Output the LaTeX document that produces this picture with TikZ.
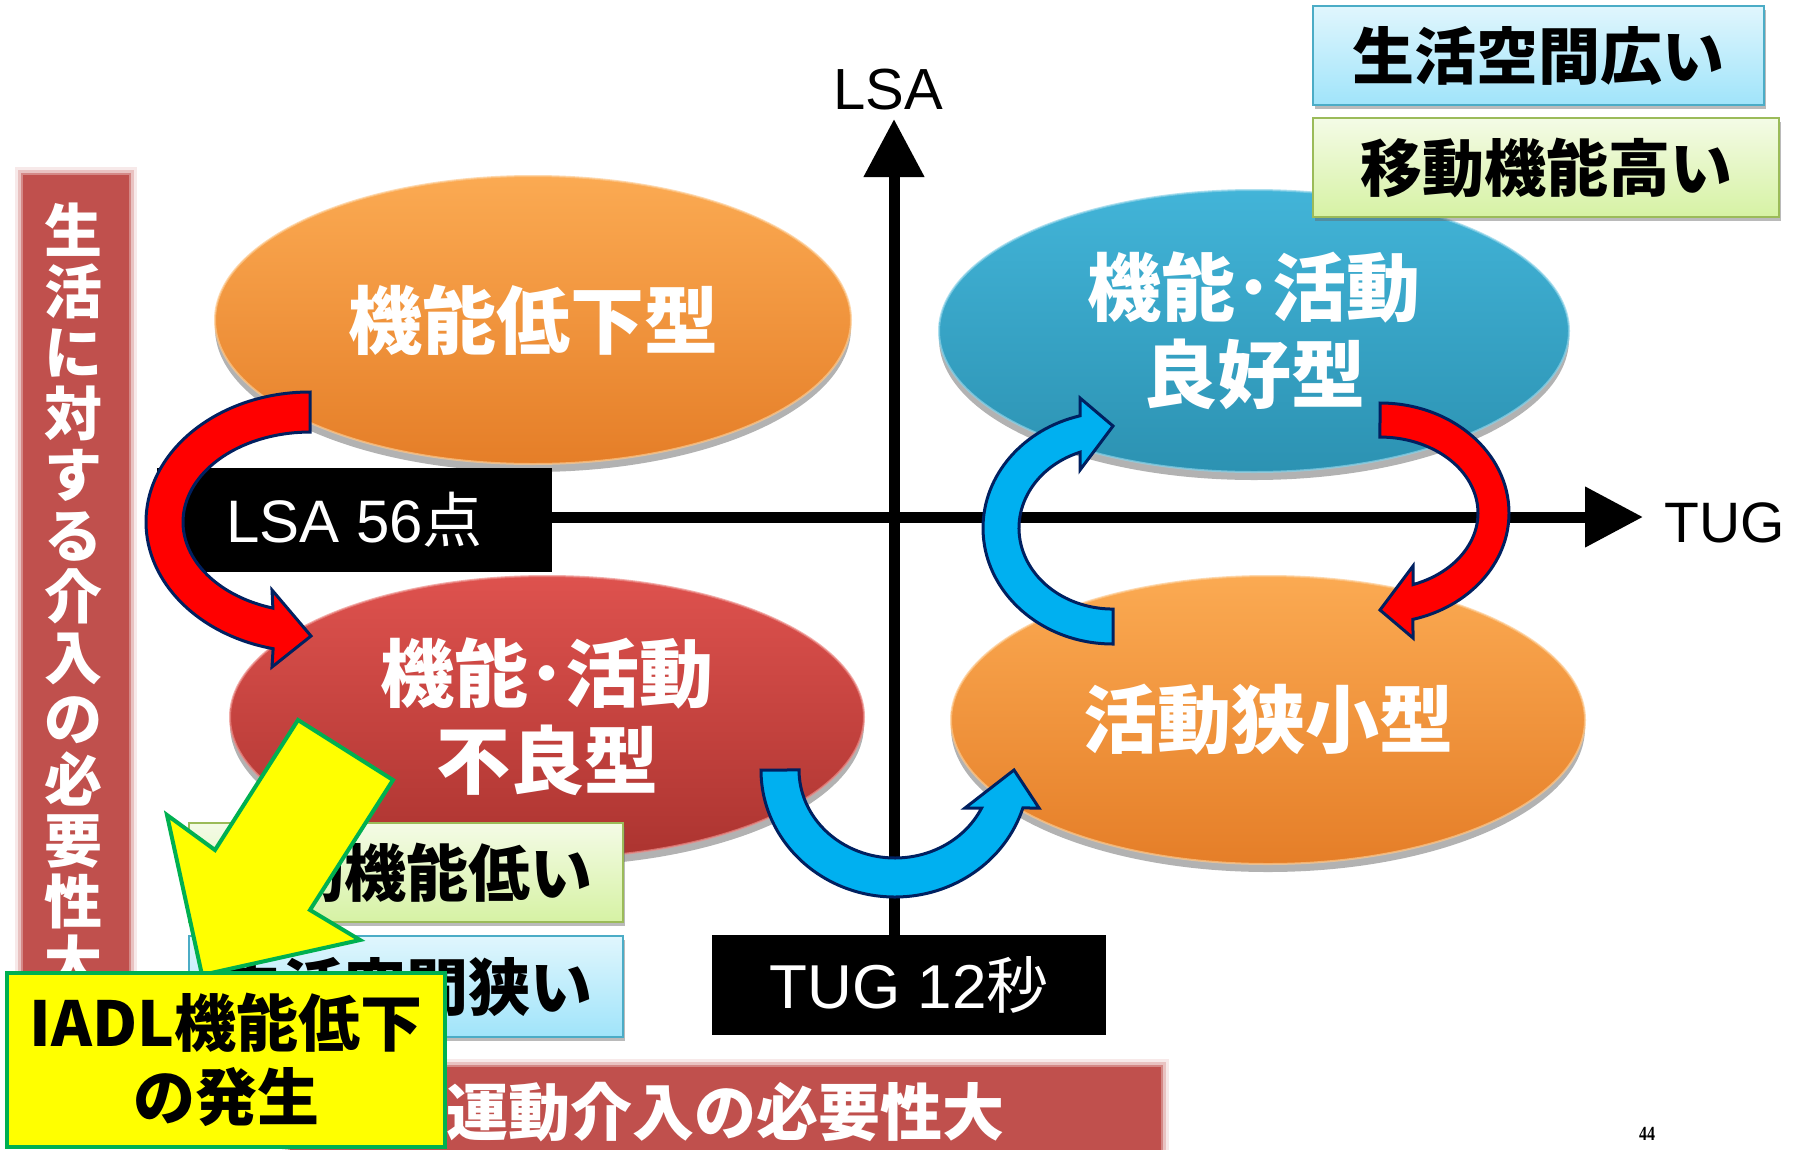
\documentclass[tikz,border=0pt]{standalone}
\usepackage{fontspec}
\usepackage{graphicx}
\setmainfont{Liberation Sans}
\newfontfamily\jp{Noto Sans CJK JP}
\newfontfamily\serifnum{Liberation Serif}
\usetikzlibrary{shapes.geometric,arrows.meta,shadows}
\definecolor{barred}{RGB}{192,80,77}
\definecolor{orT}{RGB}{251,170,82}
\definecolor{orB}{RGB}{229,126,40}
\definecolor{orR}{RGB}{253,200,140}
\definecolor{blT}{RGB}{66,180,216}
\definecolor{blB}{RGB}{44,146,178}
\definecolor{blR}{RGB}{140,210,232}
\definecolor{rdT}{RGB}{222,82,78}
\definecolor{rdB}{RGB}{172,52,48}
\definecolor{rdR}{RGB}{236,140,136}
\definecolor{navy}{RGB}{0,32,96}
\definecolor{arred}{RGB}{255,0,0}
\definecolor{arblue}{RGB}{0,176,240}
\definecolor{ggreen}{RGB}{155,187,89}
\definecolor{gT}{RGB}{244,251,230}
\definecolor{gB}{RGB}{214,242,164}
\definecolor{bblue}{RGB}{75,172,198}
\definecolor{bT}{RGB}{224,246,253}
\definecolor{bB}{RGB}{160,228,250}
\definecolor{ygreen}{RGB}{0,176,80}
\definecolor{yel}{RGB}{255,255,0}
\tikzset{
  ell/.style={ellipse, inner sep=0pt, align=center, text=white, line width=2pt, draw opacity=0.7,
    font=\jp\bfseries\fontsize{74}{87}\selectfont,
    drop shadow={shadow xshift=0pt, shadow yshift=-8pt, opacity=0.3, fill=black}},
  axisline/.style={line width=11pt, -{Triangle[length=58pt,width=58pt]}},
  blackbox/.style={rectangle, fill=black, text=white, inner sep=0pt},
  blockarrow/.style={draw=navy, line width=3pt, line join=miter},
  tbox/.style={rectangle, inner sep=0pt, line width=2pt, text=black,
    font=\jp\bfseries\fontsize{62}{62}\selectfont,
    drop shadow={shadow xshift=2pt, shadow yshift=-4pt, opacity=0.45, fill=black!60}},
  gbox/.style={tbox, draw=ggreen, top color=gT, bottom color=gB},
  bbox/.style={tbox, draw=bblue, top color=bT, bottom color=bB},
  barlabel/.style={text=white, inner sep=0pt, align=center, font=\jp\bfseries\fontsize{58}{61}\selectfont}
}
\begin{document}
\begin{tikzpicture}[x=1pt,y=-1pt]
\useasboundingbox (0,0) rectangle (1806,1149);
\fill[white] (0,0) rectangle (1806,1149);

% soft-edged bars
\foreach \o/\a in {8/0.12,5/0.25,2/0.5}{
  \fill[barred, opacity=\a] ({23-\o},{175-\o}) rectangle ({129+\o},{1015+\o});
  \fill[barred, opacity=\a] ({290-\o},{1067-\o}) rectangle ({1161+\o},{1160});
}
\node[fill=barred, minimum width=106pt, minimum height=840pt, inner sep=0pt] (lbar) at (76,595) {};
\node[barlabel] (lbartext) at (73,596) {生\\活\\に\\対\\す\\る\\介\\入\\の\\必\\要\\性\\大};
\node[fill=barred, minimum width=871pt, minimum height=90pt, inner sep=0pt] (bbar) at (725.5,1112) {};
\node[barlabel, font=\jp\bfseries\fontsize{62}{62}\selectfont] (bbartext) at (725,1112) {運動介入の必要性大};

% ellipses
\node[ell, minimum width=636pt, minimum height=288pt, top color=orT, bottom color=orB, draw=orR] (ell1) at (533,320) {機能低下型};
\node[ell, minimum width=630pt, minimum height=282pt, top color=blT, bottom color=blB, draw=blR] (ell2) at (1254,331) {機能･活動\\良好型};
\node[ell, minimum width=634pt, minimum height=282pt, top color=rdT, bottom color=rdB, draw=rdR] (ell3) at (547,717) {機能･活動\\不良型};
\node[ell, minimum width=634pt, minimum height=288pt, top color=orT, bottom color=orB, draw=orR] (ell4) at (1268,720) {活動狭小型};

% threshold boxes and axes
\node[blackbox, minimum width=395pt, minimum height=104pt, font=\fontsize{60}{60}\selectfont] (lsabox) at (354.5,520) {LSA 56{\jp 点}};
\node[blackbox, minimum width=394pt, minimum height=100pt, font=\fontsize{62}{62}\selectfont] (tugbox) at (909,985) {TUG 12{\jp 秒}};
\coordinate (ytip) at (894,119);
\coordinate (xtip) at (1643,517);
\draw[axisline] (tugbox.north -| ytip) -- (ytip);
\draw[axisline] (lsabox.east |- xtip) -- (xtip);
\node[font=\fontsize{58}{58}\selectfont, inner sep=0pt] (lsalab) at (888,90) {LSA};
\node[font=\fontsize{57}{57}\selectfont, inner sep=0pt] (tuglab) at (1725,523) {TUG};

% curved block arrows
\draw[blockarrow, fill=arred] (310,392) arc[start angle=270, end angle=103, x radius=164, y radius=130]
  -- (272,667) -- (311,636) -- (272,590) -- (272.9,608.1)
  arc[start angle=107, end angle=270, x radius=127, y radius=90] -- cycle;
\draw[blockarrow, fill=arred] (1380,403) arc[start angle=270, end angle=435.2, x radius=129, y radius=110]
  -- (1413,638) -- (1380,610) -- (1413,566) -- (1413,584.6)
  arc[start angle=430.3, end angle=270, x radius=98, y radius=76] -- cycle;
\draw[blockarrow, fill=arblue] (1113,644) arc[start angle=90, end angle=255.3, x radius=130, y radius=116]
  -- (1080,398) -- (1113,426) -- (1080,470) -- (1080,452.2)
  arc[start angle=249.45, end angle=90, x radius=94, y radius=81] -- cycle;
\draw[blockarrow, fill=arblue] (761,770) arc[start angle=180, end angle=17.4, x radius=134, y radius=127]
  -- (1039,808) -- (1014,770) -- (965,808) -- (981.6,808)
  arc[start angle=25.6, end angle=180, x radius=96, y radius=88] -- cycle;

% legend boxes
\node[bbox, minimum width=451pt, minimum height=99pt] (wide) at (1538.5,55.5) {生活空間広い};
\node[gbox, minimum width=466pt, minimum height=99pt] (high) at (1546,167.5) {移動機能高い};
\node[gbox, minimum width=434pt, minimum height=99pt] (low) at (406,872.5) {移動機能低い};
\node[bbox, minimum width=434pt, minimum height=101pt] (narrow) at (406,986.5) {生活空間狭い};

% yellow arrow
\draw[fill=yel, draw=ygreen, line width=4pt, line join=miter]
  (298,720) -- (393,780) -- (310,910) -- (360,940) -- (202,975) -- (167,815) -- (215,850) -- cycle;

% IADL box
\node[draw=ygreen, line width=4pt, fill=yel, minimum width=438pt, minimum height=174pt, inner sep=0pt,
  align=center, font=\jp\bfseries\fontsize{62}{74}\selectfont] (iadl) at (226,1060) {IADL機能低下\\の発生};

\node[font=\serifnum\bfseries\fontsize{20}{20}\selectfont, inner sep=0pt] (pg) at (1647,1134) {\scalebox{0.8}[1]{44}};
\end{tikzpicture}
\end{document}
